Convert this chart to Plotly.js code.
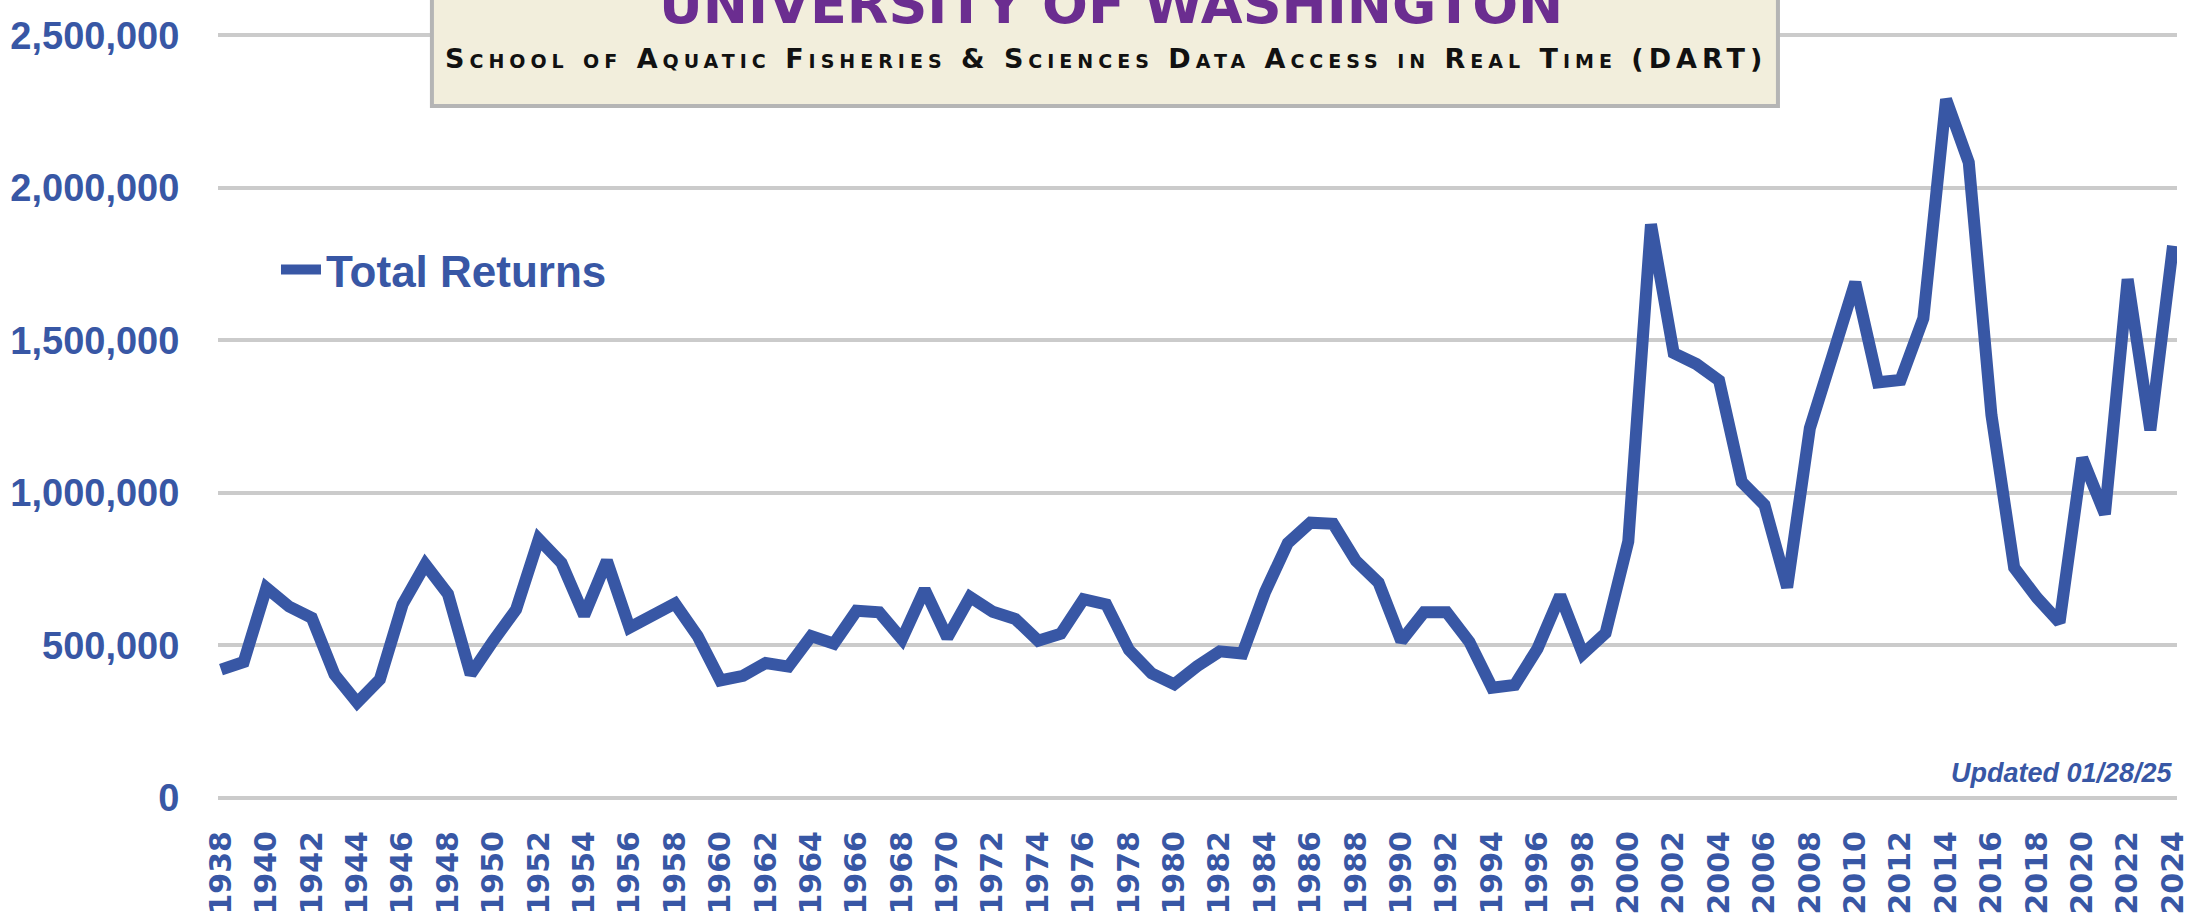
<!DOCTYPE html>
<html>
<head>
<meta charset="utf-8">
<script src="https://cdn.plot.ly/plotly-3.0.1.min.js"></script>
<style>
html, body { margin: 0; padding: 0; background: #ffffff; }
#chart { width: 2208px; height: 918px; }
g.annotation[data-index="1"] text { letter-spacing: 5px; }
</style>
</head>
<body>
<div id="chart"></div>
<script>
// ---- data ----
const years = [
  1938, 1939, 1940, 1941, 1942, 1943, 1944, 1945, 1946, 1947,
  1948, 1949, 1950, 1951, 1952, 1953, 1954, 1955, 1956, 1957,
  1958, 1959, 1960, 1961, 1962, 1963, 1964, 1965, 1966, 1967,
  1968, 1969, 1970, 1971, 1972, 1973, 1974, 1975, 1976, 1977,
  1978, 1979, 1980, 1981, 1982, 1983, 1984, 1985, 1986, 1987,
  1988, 1989, 1990, 1991, 1992, 1993, 1994, 1995, 1996, 1997,
  1998, 1999, 2000, 2001, 2002, 2003, 2004, 2005, 2006, 2007,
  2008, 2009, 2010, 2011, 2012, 2013, 2014, 2015, 2016, 2017,
  2018, 2019, 2020, 2021, 2022, 2023, 2024
];

const totalReturns = [
  420000, 445000, 688000, 627000, 590000, 404000, 312000, 388000, 634000, 765000,
  668000, 405000, 515000, 617000, 848000, 770000, 598000, 777000, 558000, 598000,
  637000, 530000, 385000, 400000, 442000, 430000, 530000, 505000, 613000, 608000,
  520000, 683000, 525000, 658000, 610000, 586000, 515000, 538000, 651000, 634000,
  485000, 408000, 372000, 431000, 480000, 473000, 675000, 835000, 902000, 898000,
  777000, 705000, 514000, 608000, 608000, 511000, 361000, 370000, 489000, 663000,
  472000, 540000, 840000, 1880000, 1458000, 1422000, 1368000, 1035000, 960000, 690000,
  1212000, 1450000, 1690000, 1362000, 1370000, 1572000, 2290000, 2083000, 1255000, 755000,
  656000, 575000, 1114000, 930000, 1700000, 1205000, 1810000
];

const seriesName = 'Total Returns';

const xTickVals = [
  1938, 1940, 1942, 1944, 1946, 1948, 1950, 1952, 1954, 1956,
  1958, 1960, 1962, 1964, 1966, 1968, 1970, 1972, 1974, 1976,
  1978, 1980, 1982, 1984, 1986, 1988, 1990, 1992, 1994, 1996,
  1998, 2000, 2002, 2004, 2006, 2008, 2010, 2012, 2014, 2016,
  2018, 2020, 2022, 2024
];
const xTickText = [
  '1938', '1940', '1942', '1944', '1946', '1948', '1950', '1952', '1954', '1956',
  '1958', '1960', '1962', '1964', '1966', '1968', '1970', '1972', '1974', '1976',
  '1978', '1980', '1982', '1984', '1986', '1988', '1990', '1992', '1994', '1996',
  '1998', '2000', '2002', '2004', '2006', '2008', '2010', '2012', '2014', '2016',
  '2018', '2020', '2022', '2024'
];
const yTickVals = [0, 500000, 1000000, 1500000, 2000000, 2500000];

const titleMain = 'UNIVERSITY OF WASHINGTON';
const titleSub = 'School of Aquatic Fisheries &amp; Sciences Data Access in Real Time (DART)';
const updatedNote = 'Updated 01/28/25';

// ---- styling ----
const BLUE = '#3857A5';
const PURPLE = '#6B2D90';

const trace = {
  type: 'scatter',
  mode: 'lines',
  x: years,
  y: totalReturns,
  name: seriesName,
  line: { color: BLUE, width: 12 },
  hoverinfo: 'x+y'
};

const layout = {
  width: 2208,
  height: 918,
  margin: { l: 218, r: 31, t: 34, b: 119, pad: 0 },
  paper_bgcolor: '#ffffff',
  plot_bgcolor: '#ffffff',
  showlegend: true,
  legend: {
    x: 0.0296, xanchor: 'left',
    y: 0.6915, yanchor: 'middle',
    bgcolor: 'rgba(0,0,0,0)',
    borderwidth: 0,
    itemwidth: 40,
    font: { family: 'Liberation Sans, Arial, sans-serif', size: 44, color: BLUE, weight: 'bold' }
  },
  xaxis: {
    range: [1937.868, 2024.175],
    tickmode: 'array',
    tickvals: xTickVals,
    ticktext: xTickText,
    tickangle: -90,
    tickfont: { family: 'DejaVu Sans, sans-serif', size: 30, color: BLUE, weight: 'bold' },
    ticks: 'outside',
    ticklen: 19,
    tickcolor: 'rgba(0,0,0,0)',
    showgrid: false,
    zeroline: false,
    showline: false,
    fixedrange: true
  },
  yaxis: {
    range: [-4000, 2504000],
    tickmode: 'array',
    tickvals: yTickVals,
    tickformat: ',',
    tickfont: { family: 'Liberation Sans, Arial, sans-serif', size: 38, color: BLUE, weight: 'bold' },
    ticks: 'outside',
    ticklen: 30,
    tickcolor: 'rgba(0,0,0,0)',
    showgrid: true,
    gridcolor: '#CBCBCB',
    gridwidth: 4,
    zeroline: false,
    showline: false,
    fixedrange: true
  },
  shapes: [
    {
      type: 'rect', xref: 'paper', yref: 'paper',
      x0: 0.1092, x1: 0.7963, y0: 0.9059, y1: 1.0588,
      fillcolor: '#F2EEDC',
      line: { color: '#B5B5B5', width: 4 },
      layer: 'above'
    }
  ],
  annotations: [
    {
      text: titleMain, xref: 'paper', yref: 'paper',
      x: 0.4561, y: 1.0392, xanchor: 'center', yanchor: 'middle',
      showarrow: false,
      font: { family: 'DejaVu Sans, sans-serif', size: 54, color: PURPLE, weight: 'bold' }
    },
    {
      text: titleSub, xref: 'paper', yref: 'paper',
      x: 0.4533, y: 0.9686, xanchor: 'center', yanchor: 'middle',
      showarrow: false,
      font: { family: 'DejaVu Sans, sans-serif', size: 27, color: '#111111', weight: 'bold', variant: 'small-caps' }
    },
    {
      text: updatedNote, xref: 'paper', yref: 'paper',
      x: 0.999, y: 0.034, xanchor: 'right', yanchor: 'middle',
      showarrow: false,
      font: { family: 'Liberation Sans, Arial, sans-serif', size: 27, color: BLUE, weight: 'bold', style: 'italic' }
    }
  ]
};

Plotly.newPlot('chart', [trace], layout, { displayModeBar: false, responsive: false });
</script>
</body>
</html>
